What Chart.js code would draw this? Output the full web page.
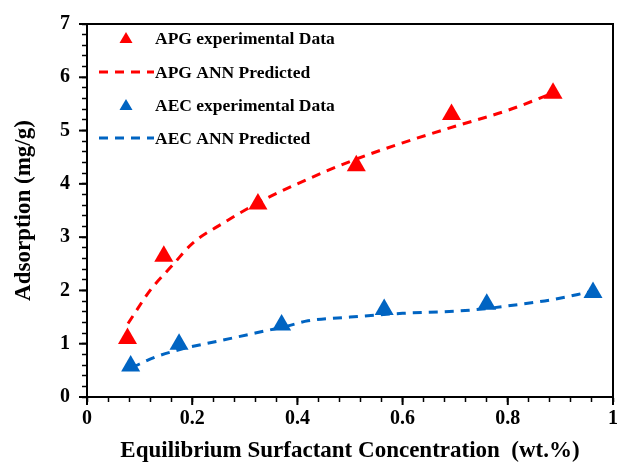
<!DOCTYPE html>
<html><head><meta charset="utf-8">
<script src="https://cdn.jsdelivr.net/npm/chart.js@4/dist/chart.umd.min.js"></script>
<style>html,body{margin:0;padding:0;background:#fff}#wrap{width:624px;height:465px}</style>
</head><body><div id="wrap"><canvas id="c" width="624" height="465"></canvas></div>
<script>
const apgExpX = [0.077, 0.146, 0.325, 0.512, 0.693, 0.886];
const apgExpY = [1.10, 2.64, 3.62, 4.34, 5.30, 5.70];
const aecExpX = [0.083, 0.175, 0.370, 0.565, 0.760, 0.962];
const aecExpY = [0.58, 0.99, 1.35, 1.64, 1.74, 1.96];
const apgPredX = [0.078, 0.12, 0.165, 0.2, 0.26, 0.33, 0.4, 0.5, 0.6, 0.7, 0.8, 0.89];
const apgPredY = [1.38, 2.0, 2.5, 2.88, 3.27, 3.67, 4.0, 4.42, 4.77, 5.08, 5.38, 5.72];
const aecPredX = [0.085, 0.13, 0.18, 0.25, 0.32, 0.38, 0.42, 0.5, 0.6, 0.7, 0.76, 0.8, 0.88, 0.96];
const aecPredY = [0.55, 0.75, 0.9, 1.05, 1.2, 1.33, 1.43, 1.5, 1.57, 1.61, 1.66, 1.71, 1.82, 1.98];
const xTickLabels = ['0', '0.2', '0.4', '0.6', '0.8', '1'];
const yTickLabels = ['0', '1', '2', '3', '4', '5', '6', '7'];
const legendLabels = ['APG experimental Data', 'APG ANN Predicted', 'AEC experimental Data', 'AEC ANN Predicted'];

const RED = '#FF0000', BLUE = '#0064C2';
const pts = (xs, ys) => xs.map((x, i) => ({x, y: ys[i]}));
const FONT = '"Liberation Serif", "Times New Roman", serif';
const isMajorX = v => Math.abs(v * 5 - Math.round(v * 5)) < 1e-6;
const isMajorY = v => Math.abs(v - Math.round(v)) < 1e-6;

const frame = {
  id: 'frame',
  afterDraw(chart) {
    const {ctx, chartArea: a} = chart;
    ctx.save();
    ctx.strokeStyle = '#000'; ctx.lineWidth = 2;
    ctx.strokeRect(a.left, a.top, a.right - a.left, a.bottom - a.top);
    // longer major ticks
    ctx.lineWidth = 2;
    const xs = chart.scales.x, ys = chart.scales.y;
    xTickLabels.forEach((t, i) => {
      const px = xs.getPixelForValue(i * 0.2);
      ctx.beginPath(); ctx.moveTo(px, a.bottom); ctx.lineTo(px, a.bottom + 8); ctx.stroke();
    });
    yTickLabels.forEach((t, i) => {
      const py = ys.getPixelForValue(i);
      ctx.beginPath(); ctx.moveTo(a.left, py); ctx.lineTo(a.left - 8, py); ctx.stroke();
    });
    // legend
    const items = [
      {type: 'tri', color: RED}, {type: 'line', color: RED},
      {type: 'tri', color: BLUE}, {type: 'line', color: BLUE}
    ];
    const ly = [38, 72, 105, 138];
    ctx.font = 'bold 17.5px ' + FONT;
    ctx.textBaseline = 'middle';
    items.forEach((it, i) => {
      const y = ly[i];
      if (it.type === 'tri') {
        ctx.fillStyle = it.color;
        ctx.beginPath();
        ctx.moveTo(126, y - 6); ctx.lineTo(132.5, y + 5); ctx.lineTo(119.5, y + 5);
        ctx.closePath(); ctx.fill();
      } else {
        ctx.strokeStyle = it.color; ctx.lineWidth = 3; ctx.setLineDash([9, 7]);
        ctx.beginPath(); ctx.moveTo(99, y); ctx.lineTo(154, y); ctx.stroke();
        ctx.setLineDash([]);
      }
      ctx.fillStyle = '#000';
      ctx.fillText(legendLabels[i], 155, y + 1);
    });
    ctx.restore();
  }
};

new Chart(document.getElementById('c'), {
  type: 'scatter',
  data: {
    datasets: [
      {label: legendLabels[1], type: 'line', data: pts(apgPredX, apgPredY), borderColor: RED, borderWidth: 3,
       borderDash: [9, 7], pointRadius: 0, tension: 0.4, cubicInterpolationMode: 'monotone', fill: false},
      {label: legendLabels[3], type: 'line', data: pts(aecPredX, aecPredY), borderColor: BLUE, borderWidth: 3,
       borderDash: [9, 7], pointRadius: 0, tension: 0.4, cubicInterpolationMode: 'monotone', fill: false},
      {label: legendLabels[0], data: pts(apgExpX, apgExpY), pointStyle: 'triangle', pointRadius: 11,
       backgroundColor: RED, borderColor: RED, borderWidth: 0},
      {label: legendLabels[2], data: pts(aecExpX, aecExpY), pointStyle: 'triangle', pointRadius: 11,
       backgroundColor: BLUE, borderColor: BLUE, borderWidth: 0}
    ]
  },
  options: {
    responsive: false, animation: false, devicePixelRatio: 1,
    layout: {padding: {top: 20, right: 7, left: 0, bottom: 0}},
    plugins: {legend: {display: false}, tooltip: {enabled: false}},
    scales: {
      x: {
        type: 'linear', min: 0, max: 1,
        afterFit: s => { s.height = 68; },
        border: {color: '#000', width: 2},
        grid: {drawOnChartArea: false, drawTicks: true, tickLength: 5, color: '#000', tickWidth: 1.5},
        ticks: {stepSize: 0.04, autoSkip: false, maxRotation: 0, color: '#000', padding: 5,
          font: {family: FONT, weight: 'bold', size: 20},
          callback: v => isMajorX(v) ? xTickLabels[Math.round(v * 5)] : ''},
        title: {display: true, text: 'Equilibrium Surfactant Concentration  (wt.%)', color: '#000',
          font: {family: FONT, weight: 'bold', size: 23}, padding: {top: 2, bottom: 0}}
      },
      y: {
        type: 'linear', min: 0, max: 7,
        afterFit: s => { s.width = 87; },
        border: {color: '#000', width: 2},
        grid: {drawOnChartArea: false, drawTicks: true, tickLength: 5, color: '#000', tickWidth: 1.5},
        ticks: {stepSize: 0.2, autoSkip: false, color: '#000', padding: 12,
          font: {family: FONT, weight: 'bold', size: 20},
          callback: v => isMajorY(v) ? yTickLabels[Math.round(v)] : ''},
        title: {display: true, text: 'Adsorption (mg/g)', color: '#000',
          font: {family: FONT, weight: 'bold', size: 23}, padding: {top: 10, bottom: 0}}
      }
    }
  },
  plugins: [frame]
});
</script></body></html>
